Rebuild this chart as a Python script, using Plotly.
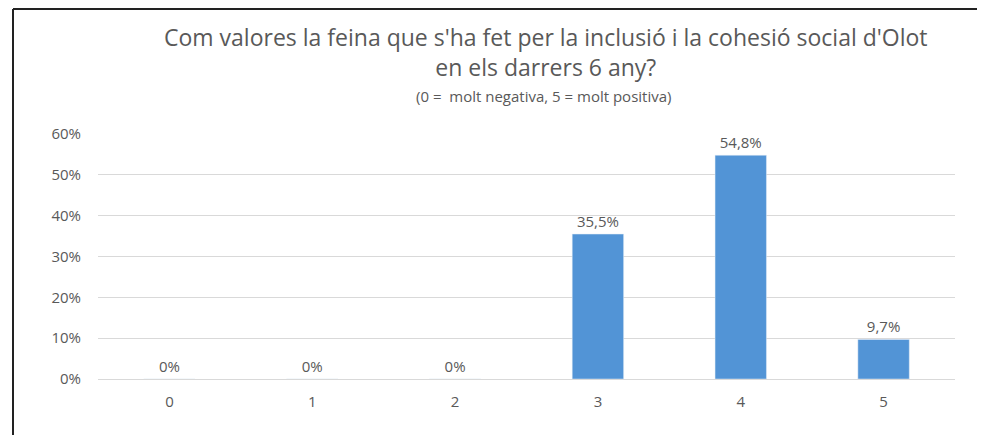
import plotly.graph_objects as go

# data
categories = ["0", "1", "2", "3", "4", "5"]
percent = [0, 0, 0, 35.5, 54.8, 9.7]
y_ticks = [0, 10, 20, 30, 40, 50, 60]

labels = ["0%" if v == 0 else f"{v:.1f}".replace(".", ",") + "%" for v in percent]
tick_text = [f"{t}%" for t in y_ticks]

W, H = 985, 435
OFF = 8  # page body margin shifts the figure by this much
# plot area in screen pixels (as seen in the reference)
PL, PR, PT, PB = 98, 955, 134, 379
L, T = PL - OFF, PT - OFF
R, B = W - (PR - OFF), H - (PB - OFF)
pw, ph = PR - PL, PB - PT


def px(x):
    return (x - PL) / pw


def py(y):
    return (PB - y) / ph


grey = "#595959"

fig = go.Figure()
fig.add_trace(go.Bar(
    x=categories,
    y=percent,
    text=labels,
    textposition="outside",
    cliponaxis=False,
    textfont=dict(size=15, color=grey),
    marker_color="#5294d6",
    width=0.36,
))

fig.update_layout(
    width=W, height=H,
    margin=dict(l=L, r=R, t=T, b=B),
    paper_bgcolor="white",
    plot_bgcolor="white",
    font=dict(family="Open Sans, sans-serif", color=grey),
    showlegend=False,
    xaxis=dict(tickfont=dict(size=15, color=grey), showgrid=False,
               showline=False, ticks="", ticklabelstandoff=12),
    yaxis=dict(range=[0, 60], tickvals=y_ticks, ticktext=tick_text,
               tickfont=dict(size=15, color=grey),
               showgrid=True, gridcolor="#d9d9d9", gridwidth=1,
               zeroline=True, zerolinecolor="#d9d9d9", zerolinewidth=1,
               ticklabelstandoff=16),
    annotations=[
        dict(text="Com valores la feina que s'ha fet per la inclusió i la cohesió social d'Olot"
                  "<br>en els darrers 6 any?",
             x=px(546), y=py(52), xref="paper", yref="paper", showarrow=False,
             font=dict(size=23, color=grey), xanchor="center", yanchor="middle"),
        dict(text="(0 =  molt negativa, 5 = molt positiva)",
             x=px(543), y=py(96), xref="paper", yref="paper", showarrow=False,
             font=dict(size=15, color=grey), xanchor="center", yanchor="middle"),
    ],
    shapes=[
        dict(type="line", xref="paper", yref="paper", x0=px(13), x1=px(990),
             y0=py(9), y1=py(9), line=dict(color="#222", width=2)),
        dict(type="line", xref="paper", yref="paper", x0=px(13), x1=px(13),
             y0=py(9), y1=py(445), line=dict(color="#222", width=2)),
    ],
)

fig.write_html("out.html")
